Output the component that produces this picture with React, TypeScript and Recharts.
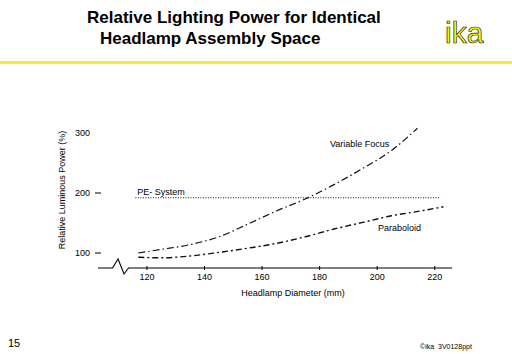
import React from 'react';
import { LineChart, Line, XAxis, YAxis, ReferenceDot } from 'recharts';

const FONT = '"Liberation Sans", Arial, sans-serif';

// headlamp diameter (mm) / relative luminous power (%)
const diameterTicks = [120, 140, 160, 180, 200, 220];
const powerTicks = [100, 200, 300];

const vfDiameter = [117, 125, 135, 145, 155, 165, 175, 185, 195, 205, 214];
const vfPower = [100, 106, 114, 127, 148, 170, 190, 214, 241, 271, 308];

const parDiameter = [117, 125, 135, 145, 155, 165, 175, 185, 195, 205, 215, 223];
const parPower = [93, 92, 95, 101, 108, 116, 127, 140, 151, 162, 170, 177];

const peDiameter = [116, 222];
const pePower = [192, 192];

const toRows = (xs: number[], ys: number[]) => xs.map((d, i) => ({ d, p: ys[i] }));

const variableFocus = toRows(vfDiameter, vfPower);
const paraboloid = toRows(parDiameter, parPower);
const peSystem = toRows(peDiameter, pePower);

const XTick = (props: any) => {
  const { x, y, payload } = props;
  return (
    <g>
      <line x1={x} x2={x} y1={y - 2} y2={y + 2} stroke="#000" strokeWidth={1} />
      <text x={x} y={y + 12} textAnchor="middle" fontSize={9} fontFamily={FONT} fill="#000">
        {payload.value}
      </text>
    </g>
  );
};

const YTick = (props: any) => {
  const { x, y, payload } = props;
  return (
    <g>
      <text x={x - 8} y={y + 3} textAnchor="end" fontSize={9} fontFamily={FONT} fill="#000">
        {payload.value}
      </text>
      {payload.value !== 300 && (
        <line x1={x - 3} x2={x + 3} y1={y} y2={y} stroke="#000" strokeWidth={1} />
      )}
    </g>
  );
};

const XTitle = (props: any) => {
  const { viewBox } = props;
  return (
    <text x={viewBox.x + viewBox.width / 2 + 18} y={viewBox.y + 28} textAnchor="middle"
      fontSize={9} fontFamily={FONT} fill="#000">
      Headlamp Diameter (mm)
    </text>
  );
};

const YTitle = (props: any) => {
  const { viewBox } = props;
  const cx = viewBox.x + 7;
  const cy = viewBox.y + viewBox.height / 2 - 3;
  return (
    <text x={cx} y={cy} transform={`rotate(-90 ${cx} ${cy})`} textAnchor="middle"
      fontSize={9} fontFamily={FONT} fill="#000">
      Relative Luminous Power (%)
    </text>
  );
};

// axis break zigzag
const BreakMark = (props: any) => {
  const { cx, cy } = props;
  return (
    <g>
      <rect x={cx - 8} y={cy - 2} width={15} height={4} fill="#fff" />
      <path d={`M${cx - 8.5},${cy} L${cx - 3},${cy - 9} L${cx + 3},${cy + 6} L${cx + 7.5},${cy}`}
        fill="none" stroke="#000" strokeWidth={1.1} />
    </g>
  );
};

const seriesLabel = (text: string) => (props: any) => (
  <text x={props.cx} y={props.cy} fontSize={9} fontFamily={FONT} fill="#000">{text}</text>
);

const App: React.FC = () => {
  return (
    <div style={{ position: 'absolute', left: 0, top: 0, width: 512, height: 354, background: '#fff', fontFamily: FONT, overflow: 'hidden' }}>
      <div style={{ position: 'absolute', left: 87, top: 8, fontSize: 17, fontWeight: 'bold', whiteSpace: 'nowrap', color: '#000' }}>
        Relative Lighting Power for Identical
      </div>
      <div style={{ position: 'absolute', left: 100, top: 29, fontSize: 17, fontWeight: 'bold', whiteSpace: 'nowrap', color: '#000' }}>
        Headlamp Assembly Space
      </div>
      <svg style={{ position: 'absolute', left: 440, top: 12 }} width={60} height={40}>
        <text x={5} y={31} fontSize={30} fontFamily={FONT}
          fill="#ffff00" stroke="#222" strokeWidth={0.7}>ika</text>
      </svg>
      <div style={{ position: 'absolute', left: 0, top: 61, width: 512, height: 3, background: '#eeee3a' }} />

      <div style={{ position: 'absolute', left: 0, top: 0 }}>
        <LineChart width={512} height={354} margin={{ top: 118, right: 60, bottom: 56, left: 58 }}>
          <XAxis type="number" dataKey="d" domain={[103, 226]} ticks={diameterTicks} interval={0}
            allowDataOverflow axisLine={{ stroke: '#000', strokeWidth: 1.2 }} tickLine={false}
            tickSize={0} tickMargin={0} height={30} tick={<XTick />} label={XTitle} />
          <YAxis type="number" dataKey="p" domain={[75, 325]} ticks={powerTicks} interval={0}
            allowDataOverflow axisLine={false} tickLine={false} tickSize={0} tickMargin={0}
            width={40} tick={<YTick />} label={YTitle} />
          <Line data={peSystem} dataKey="p" type="linear" stroke="#111" strokeWidth={1.1}
            strokeDasharray="1 1.5" dot={false} isAnimationActive={false} />
          <Line data={variableFocus} dataKey="p" type="monotone" stroke="#111" strokeWidth={1.2}
            strokeDasharray="7 3 1.5 3" dot={false} isAnimationActive={false} />
          <Line data={paraboloid} dataKey="p" type="monotone" stroke="#111" strokeWidth={1.4}
            strokeDasharray="6 3 2 3" dot={false} isAnimationActive={false} />
          <ReferenceDot x={111} y={75} ifOverflow="visible" shape={BreakMark} />
          <ReferenceDot x={183.6} y={277} ifOverflow="visible" shape={seriesLabel('Variable Focus')} />
          <ReferenceDot x={116.6} y={197} ifOverflow="visible" shape={seriesLabel('PE- System')} />
          <ReferenceDot x={200.3} y={137} ifOverflow="visible" shape={seriesLabel('Paraboloid')} />
        </LineChart>
      </div>

      <div style={{ position: 'absolute', left: 8, top: 337, fontSize: 11, color: '#000' }}>15</div>
      <div style={{ position: 'absolute', left: 420, top: 343, fontSize: 7, color: '#000', whiteSpace: 'nowrap' }}>
        ©ika&nbsp;&nbsp;3V0128ppt
      </div>
    </div>
  );
};

export default App;
